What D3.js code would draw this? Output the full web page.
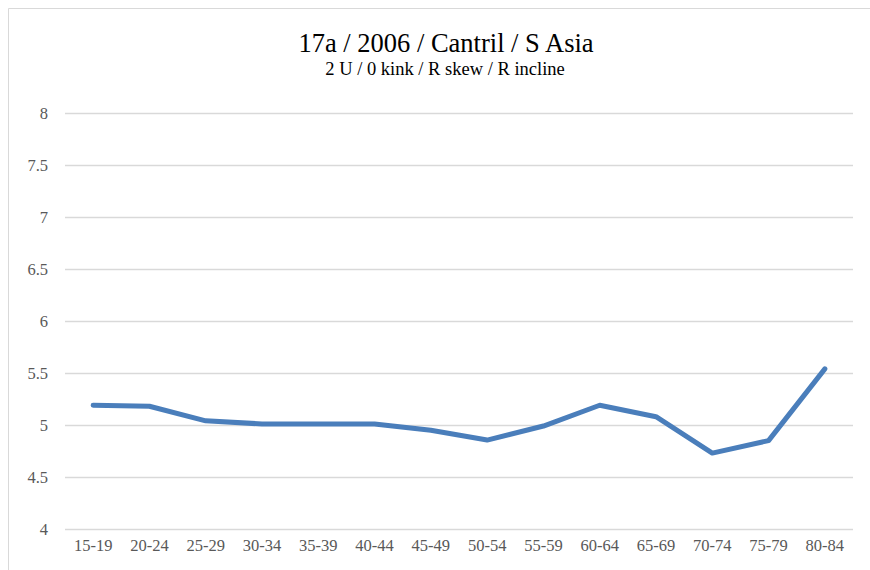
<!DOCTYPE html>
<html><head><meta charset="utf-8">
<script src="https://cdn.jsdelivr.net/npm/d3@7"></script>
<style>body{margin:0;background:#fff}svg{display:block}</style>
</head><body>
<script>
const categories = ["15-19","20-24","25-29","30-34","35-39","40-44","45-49","50-54","55-59","60-64","65-69","70-74","75-79","80-84"];
const values = [5.19,5.18,5.04,5.01,5.01,5.01,4.95,4.855,4.99,5.19,5.08,4.73,4.85,5.54];
const yTicks = [4,4.5,5,5.5,6,6.5,7,7.5,8];
const title = "17a / 2006 / Cantril / S Asia";
const subtitle = "2 U / 0 kink / R skew / R incline";

const W = 870, H = 570;
const svg = d3.select("body").append("svg").attr("width", W).attr("height", H);
svg.append("rect").attr("width", W).attr("height", H).attr("fill", "#fff");
// chart frame
svg.append("path").attr("d", "M8.5," + H + "V8.5H" + W).attr("fill","none").attr("stroke","#d9d9d9").attr("stroke-width",1);

const x = d3.scaleBand().domain(categories).range([65, 853]);
const y = d3.scaleLinear().domain([4, 8]).range([529, 113]);

const font = "Liberation Serif, Times New Roman, serif";

// gridlines
svg.append("g").selectAll("line").data(yTicks).join("line")
  .attr("x1", 65).attr("x2", 853)
  .attr("y1", d => Math.round(y(d)) + 0.5).attr("y2", d => Math.round(y(d)) + 0.5)
  .attr("stroke", "#d9d9d9").attr("stroke-width", 1.3);

// y axis
const yAxis = svg.append("g").attr("transform", "translate(65,0)")
  .call(d3.axisLeft(y).tickValues(yTicks).tickSize(0).tickPadding(17).tickFormat(d => String(d)));
yAxis.select(".domain").remove();
yAxis.selectAll("text").attr("font-family", font).attr("font-size", 16.5).attr("fill", "#595959");

// x axis
const xAxis = svg.append("g").attr("transform", "translate(0,529)")
  .call(d3.axisBottom(x).tickSize(0).tickPadding(10));
xAxis.select(".domain").remove();
xAxis.selectAll("text").attr("font-family", font).attr("font-size", 16.5).attr("fill", "#595959");

// line
const line = d3.line().x((d, i) => x(categories[i]) + x.bandwidth() / 2).y(d => y(d));
svg.append("path").datum(values).attr("d", line)
  .attr("fill", "none").attr("stroke", "#4a7ebb").attr("stroke-width", 5)
  .attr("stroke-linejoin", "round").attr("stroke-linecap", "round");

// titles
svg.append("text").attr("x", 446).attr("y", 52).attr("text-anchor", "middle")
  .attr("font-family", font).attr("font-size", 26.5).attr("fill", "#000").text(title);
svg.append("text").attr("x", 445).attr("y", 75).attr("text-anchor", "middle")
  .attr("font-family", font).attr("font-size", 18.5).attr("fill", "#000").text(subtitle);
</script>
</body></html>
